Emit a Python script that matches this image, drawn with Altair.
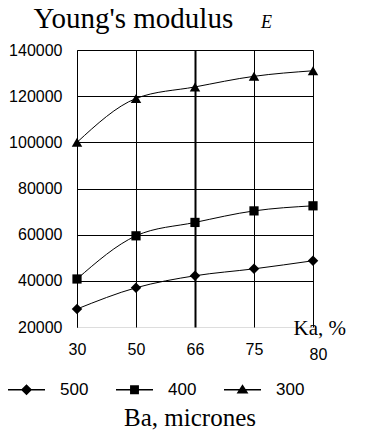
import altair as alt
import pandas as pd

ka = [30, 50, 66, 75, 80]
series = ["500", "400", "300"]
e_500 = [27800, 37000, 42200, 45200, 48700]
e_400 = [40800, 59500, 65300, 70300, 72500]
e_300 = [100000, 119000, 124000, 128600, 131000]
y_ticks = [20000, 40000, 60000, 80000, 100000, 120000, 140000]
marker_shapes = ["diamond", "square", "triangle-up"]

rows = []
for name, vals in zip(series, [e_500, e_400, e_300]):
    for k, v in zip(ka, vals):
        rows.append({"Ka": k, "E": v, "Ba": name})
df = pd.DataFrame(rows)

SERIF = "Liberation Serif"
SANS = "Liberation Sans"

x_enc = alt.X("Ka:O", sort=ka,
              scale=alt.Scale(type="point", padding=0),
              axis=alt.Axis(title="Ka, %", titleX=216, titleY=7, titleAlign="left",
                            titleBaseline="alphabetic", titleFont=SERIF,
                            titleFontSize=21, titleFontWeight="normal", titleColor="black",
                            labelAngle=0, labelFont=SANS, labelFontSize=16,
                            labelColor="black",
                            labelPadding=alt.condition("datum.value == 80", alt.value(19), alt.value(14)),
                            labelOffset=alt.condition("datum.value == 80", alt.value(5), alt.value(0)),
                            ticks=False, domain=False,
                            grid=True, gridColor="black", gridOpacity=1,
                            gridWidth=alt.condition("datum.value == 66", alt.value(2), alt.value(1))))
y_left = alt.Y("E:Q", scale=alt.Scale(domain=[20000, 140000], nice=False, zero=False),
               axis=alt.Axis(values=y_ticks, format="d", title="Young's modulus", titleAngle=0,
                             titleX=-44, titleY=-23, titleAlign="left",
                             titleBaseline="alphabetic", titleFont=SERIF,
                             titleFontSize=29, titleFontWeight="normal", titleColor="black",
                             labelFont=SANS, labelFontSize=16, labelColor="black",
                             labelPadding=15, ticks=False, domainColor="black",
                             grid=True, gridColor="black", gridWidth=1,
                             gridOpacity=alt.condition("datum.value == 20000", alt.value(0), alt.value(1))))
y_right = alt.Y("E:Q", scale=alt.Scale(domain=[20000, 140000], nice=False, zero=False),
                axis=alt.Axis(orient="right", title="E", titleAngle=0,
                              titleX=-47, titleY=-23, titleAlign="center",
                              titleBaseline="alphabetic", titleFont=SERIF,
                              titleFontStyle="italic", titleFontSize=18,
                              titleFontWeight="normal", titleColor="black",
                              labels=False, ticks=False, domain=False, grid=False))

base = alt.Chart(df)

# bottom axis line, stopping short of the "Ka, %" label as in the original
axis_line = base.transform_filter("false").mark_rule(color="black", strokeWidth=1).encode(
    x=alt.value(0), x2=alt.value(203), y=alt.value(277))

lines = base.mark_line(color="black", strokeWidth=1, interpolate="monotone").encode(
    x=x_enc, y=y_left, detail="Ba:N")

point_layers = []
for name, shp, sz in zip(series, marker_shapes, [110, 85, 110]):
    point_layers.append(
        base.transform_filter(alt.datum.Ba == name)
        .mark_point(filled=True, color="black", opacity=1, size=sz, shape=shp)
        .encode(x=x_enc, y=y_left))

# legend glyphs: thin filled bar (the line) plus the marker
legend_paths = [
    "M-1,-0.035L1,-0.035L1,0.035L-1,0.035Z M0,-0.3L0.3,0L0,0.3L-0.3,0Z",
    "M-1,-0.035L1,-0.035L1,0.035L-1,0.035Z M-0.24,-0.24L0.24,-0.24L0.24,0.24L-0.24,0.24Z",
    "M-1,-0.035L1,-0.035L1,0.035L-1,0.035Z M0,-0.3L0.32,0.2L-0.32,0.2Z",
]
legend_layer = base.transform_filter("false").mark_point(filled=True, color="black").encode(
    x=x_enc, y=y_right,
    shape=alt.Shape("Ba:N", sort=series,
                    scale=alt.Scale(domain=series, range=legend_paths),
                    legend=alt.Legend(title=None, orient="none", direction="horizontal",
                                      legendX=-69, legendY=321, padding=0,
                                      symbolSize=1369, symbolFillColor="black",
                                      symbolStrokeWidth=0,
                                      symbolOpacity=1, labelOffset=15, columnPadding=27,
                                      labelFont=SANS, labelFontSize=17,
                                      labelColor="black")))

inner = alt.layer(lines, *point_layers)
chart = alt.layer(inner, legend_layer).resolve_axis(y="independent")
chart = alt.layer(axis_line, chart).properties(
    width=236, height=277,
    autosize=alt.AutoSizeParams(type="none"),
    padding={"left": 69, "top": 42, "right": 58, "bottom": 112},
    title=alt.TitleParams("Ba, micrones", orient="bottom", anchor="middle", frame="group",
                          font=SERIF, fontSize=25, fontWeight="normal",
                          color="black", offset=8, dx=-5),
).configure_view(stroke=None).configure(background="white")

chart.save("out.html", embed_options={"renderer": "svg", "actions": False})
